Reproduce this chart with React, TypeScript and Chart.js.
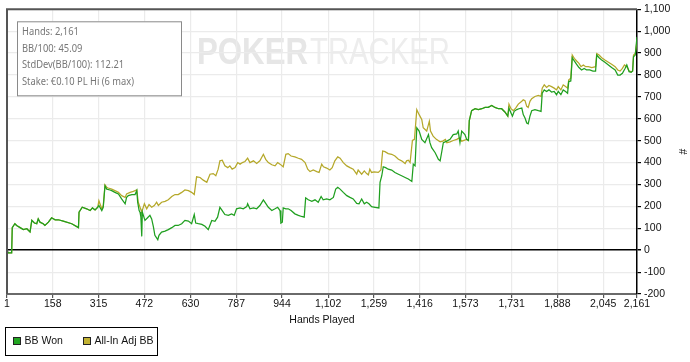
import React, { useEffect, useRef } from "react";
import { Chart, registerables } from "chart.js";
Chart.register(...registerables);

// ---- data ----
const bbWonHands = [1,5,17,19,28,34,46,57,69,80,86,95,103,108,114,125,131,143,154,166,177,194,223,246,248,259,274,286,294,303,312,316,326,331,337,343,354,360,371,383,394,406,411,417,429,440,446,449,454,457,460,463,465,474,483,491,497,503,508,518,522,531,543,554,566,577,588,600,611,623,634,643,648,657,669,680,691,703,714,723,731,739,748,760,771,780,788,800,811,823,826,834,846,857,868,880,888,897,909,920,929,937,940,945,948,957,965,975,988,1000,1011,1020,1025,1034,1046,1057,1068,1078,1085,1097,1108,1120,1128,1135,1143,1154,1166,1177,1188,1200,1208,1217,1226,1234,1242,1251,1263,1276,1280,1286,1291,1299,1308,1320,1331,1343,1354,1366,1377,1389,1394,1400,1406,1414,1423,1434,1446,1451,1457,1469,1480,1486,1491,1497,1509,1520,1531,1543,1548,1554,1560,1571,1577,1583,1586,1594,1606,1617,1629,1640,1651,1663,1674,1686,1697,1708,1718,1722,1729,1734,1740,1749,1756,1766,1771,1777,1783,1788,1794,1800,1811,1823,1832,1836,1843,1851,1859,1868,1877,1885,1891,1900,1908,1916,1923,1927,1934,1939,1946,1954,1962,1971,1980,1988,1999,2010,2019,2023,2031,2040,2051,2063,2074,2086,2095,2103,2111,2120,2126,2134,2141,2146,2149,2155,2161];
const bbWonValues = [0,-12,-12,103,121,113,103,94,98,83,136,124,121,143,128,121,113,128,148,139,139,133,121,103,174,196,189,181,193,184,196,204,181,196,294,279,275,272,264,257,234,212,241,249,254,254,272,219,181,174,151,63,174,136,148,159,143,106,68,48,68,83,87,94,103,113,113,121,136,133,121,163,124,121,118,109,94,136,132,151,196,181,163,159,166,159,189,193,189,199,212,189,193,189,204,230,214,196,181,189,196,181,124,128,193,189,189,181,166,159,154,151,239,230,223,230,219,245,230,234,230,241,279,287,279,264,249,241,234,214,212,234,212,219,212,199,196,193,310,340,381,377,370,366,355,347,340,332,325,314,393,385,559,544,506,491,528,491,468,445,415,408,445,491,498,506,528,531,544,491,544,528,506,501,592,637,646,642,646,652,652,661,652,646,646,631,612,649,627,612,634,642,646,649,619,604,581,577,612,637,642,637,634,717,732,725,732,722,725,710,725,710,732,725,717,770,773,879,864,849,834,823,830,823,823,818,818,891,879,868,858,846,834,823,800,800,808,830,846,815,812,818,883,891,974];

const allInHands = [1,5,17,19,28,34,46,57,69,80,86,95,103,108,114,125,131,143,154,166,177,194,223,246,248,259,274,286,294,303,312,316,326,331,337,343,348,360,371,383,394,406,411,423,434,446,451,463,472,480,488,497,506,514,520,531,543,554,566,577,588,600,611,623,634,643,651,663,674,686,697,708,717,725,731,739,748,758,765,773,783,792,800,808,817,826,834,846,857,868,880,888,897,909,920,929,937,948,957,965,975,988,1000,1011,1023,1032,1040,1051,1063,1071,1080,1086,1097,1108,1116,1125,1135,1143,1154,1166,1177,1188,1200,1205,1217,1226,1234,1240,1245,1251,1260,1274,1283,1289,1297,1308,1320,1331,1343,1354,1366,1371,1377,1383,1391,1398,1406,1414,1423,1428,1440,1449,1453,1462,1473,1486,1495,1504,1509,1520,1531,1543,1552,1560,1577,1583,1586,1594,1606,1617,1629,1640,1651,1663,1674,1686,1697,1708,1718,1722,1729,1737,1745,1754,1766,1771,1777,1783,1788,1794,1800,1811,1823,1832,1836,1843,1851,1859,1868,1877,1885,1891,1900,1908,1916,1923,1927,1934,1939,1946,1954,1962,1969,1977,1985,1994,2006,2019,2023,2031,2040,2051,2063,2074,2086,2095,2103,2111,2118,2126,2134,2141,2146,2149,2155,2161];
const allInValues = [0,-12,-12,103,121,113,103,94,98,83,136,124,121,143,128,121,113,128,148,139,139,133,121,103,174,196,189,181,193,184,196,226,189,204,299,287,284,279,272,264,249,241,257,264,269,275,219,174,212,189,208,196,204,219,204,219,223,230,245,254,254,264,275,272,264,254,335,332,320,310,347,350,340,370,408,411,385,377,385,370,377,400,393,400,405,420,400,408,396,408,438,415,400,390,385,400,393,381,438,441,430,426,420,415,400,370,359,366,359,355,393,381,375,366,377,408,426,420,400,385,377,370,347,366,347,362,350,344,370,355,358,355,366,453,450,441,438,430,415,408,396,408,411,400,501,506,642,619,597,559,544,589,544,521,506,495,498,506,491,495,501,506,513,498,506,501,592,637,646,642,646,652,652,661,652,646,646,631,612,667,646,637,649,667,680,687,683,657,652,680,692,702,707,702,740,755,743,752,747,740,732,747,732,755,747,740,778,785,891,876,864,853,838,846,838,838,834,838,898,891,879,868,858,849,838,823,818,830,846,838,818,815,818,891,898,955];

const xTickHands = [1,158,315,472,630,787,944,1102,1259,1416,1573,1731,1888,2045,2161];
const yMin = -200;
const yMax = 1100;
const yStep = 100;
const seriesNames = ["BB Won", "All-In Adj BB"];
const seriesColors = ["#1f9f1f", "#b5a82a"];
const legendFill = ["#22a622", "#c2b232"];
const infoLines = ["Hands: 2,161", "BB/100: 45.09", "StdDev(BB/100): 112.21", "Stake: €0.10 PL Hi (6 max)"];
const xTitle = "Hands Played";
const yTitle = "#";

const FONT = "'Liberation Sans', Arial, sans-serif";

const fmt = (v: number) => Number(v).toLocaleString("en-US");

const decorPlugin = {
  id: "decor",
  beforeDraw(chart: any) {
    const ctx = chart.ctx;
    const a = chart.chartArea;
    ctx.save();
    // watermark
    ctx.textBaseline = "alphabetic";
    ctx.fillStyle = "#e6e6e6";
    ctx.font = `bold 36px ${FONT}`;
    let w = ctx.measureText("POKER").width;
    ctx.save();
    ctx.translate(a.left + 190, a.top + 55);
    ctx.scale(111 / w, 1);
    ctx.fillText("POKER", 0, 0);
    ctx.restore();
    ctx.fillStyle = "#ededed";
    ctx.font = `36px ${FONT}`;
    w = ctx.measureText("TRACKER").width;
    ctx.save();
    ctx.translate(a.left + 303, a.top + 55);
    ctx.scale(140 / w, 1);
    ctx.fillText("TRACKER", 0, 0);
    ctx.restore();
    ctx.restore();
  },
  afterDraw(chart: any) {
    const ctx = chart.ctx;
    const a = chart.chartArea;
    ctx.save();
    // left & top frame
    ctx.strokeStyle = "#555";
    ctx.lineWidth = 2;
    ctx.beginPath();
    ctx.moveTo(a.left, a.bottom);
    ctx.lineTo(a.left, a.top);
    ctx.lineTo(a.right, a.top);
    ctx.stroke();

    // info box
    ctx.fillStyle = "#fff";
    ctx.fillRect(a.left + 10, a.top + 12, 164, 74);
    ctx.strokeStyle = "#8a8a8a";
    ctx.lineWidth = 1;
    ctx.strokeRect(a.left + 10.5, a.top + 12.5, 164, 74);
    ctx.fillStyle = "#777";
    ctx.font = `11px 'Noto Sans', sans-serif`;
    const widest = Math.max(...infoLines.map((t) => ctx.measureText(t).width));
    const sx = Math.min(1, 112 / widest);
    ctx.textBaseline = "middle";
    ctx.textAlign = "left";
    infoLines.forEach((t, i) => {
      ctx.save();
      ctx.translate(a.left + 15, a.top + 23 + i * 16.5);
      ctx.scale(sx, 1);
      ctx.fillText(t, 0, 0);
      ctx.restore();
    });

    // legend
    const lx = 5.5, ly = 327.5;
    ctx.strokeStyle = "#000";
    ctx.lineWidth = 1;
    ctx.strokeRect(lx, ly, 152, 28);
    const itemX = [13.5, 83.5];
    ctx.font = `10.5px ${FONT}`;
    ctx.textBaseline = "middle";
    seriesNames.forEach((n, i) => {
      ctx.fillStyle = legendFill[i];
      ctx.fillRect(itemX[i], 338, 7, 7);
      ctx.strokeStyle = "#222";
      ctx.strokeRect(itemX[i], 337.5, 7, 7);
      ctx.fillStyle = "#111";
      ctx.fillText(n, itemX[i] + 11, 341.5);
    });
    ctx.restore();
  },
};

export default function App() {
  const ref = useRef<HTMLCanvasElement>(null);
  useEffect(() => {
    if (!ref.current) return;
    const chart = new Chart(ref.current, {
      type: "line",
      data: {
        datasets: [
          {
            label: seriesNames[0],
            data: bbWonHands.map((h, i) => ({ x: h, y: bbWonValues[i] })),
            borderColor: seriesColors[0],
            backgroundColor: seriesColors[0],
            borderWidth: 1.25,
            pointRadius: 0,
            tension: 0,
            fill: false,
          },
          {
            label: seriesNames[1],
            data: allInHands.map((h, i) => ({ x: h, y: allInValues[i] })),
            borderColor: seriesColors[1],
            backgroundColor: seriesColors[1],
            borderWidth: 1.25,
            pointRadius: 0,
            tension: 0,
            fill: false,
          },
        ],
      },
      options: {
        responsive: false,
        animation: false,
        layout: { padding: { left: 7, top: 7, right: 0, bottom: 36 } },
        plugins: { legend: { display: false }, tooltip: { enabled: false } },
        scales: {
          x: {
            type: "linear",
            min: 1,
            max: 2161,
            afterBuildTicks: (s: any) => {
              s.ticks = xTickHands.map((v) => ({ value: v }));
            },
            afterFit: (s: any) => {
              s.height = 32;
            },
            ticks: {
              callback: (v: any) => fmt(v),
              font: { family: FONT, size: 10.5 },
              color: "#111",
              padding: 0,
              maxRotation: 0,
              autoSkip: false,
            },
            grid: { color: "#ebebeb", lineWidth: 1.2, tickColor: "#555", tickLength: 4 },
            border: { display: true, color: "#6a6a6a", width: 2 },
            title: {
              display: true,
              text: xTitle,
              font: { family: FONT, size: 10.5 },
              color: "#111",
              padding: { top: 0, bottom: 0 },
            },
          },
          y: {
            type: "linear",
            position: "right",
            min: yMin,
            max: yMax,
            afterFit: (s: any) => {
              s.width = 53;
            },
            ticks: {
              stepSize: yStep,
              callback: (v: any) => fmt(v),
              font: { family: FONT, size: 10.5 },
              color: "#111",
              padding: 3,
            },
            grid: {
              color: (c: any) => (c.tick && c.tick.value === 0 ? "#000" : "#ebebeb"),
              lineWidth: (c: any) => (c.tick && c.tick.value === 0 ? 1.5 : 1.2),
              tickColor: "#000",
              tickLength: 4,
            },
            border: { display: true, color: "#000", width: 1.5 },
            title: {
              display: true,
              text: yTitle,
              font: { family: FONT, size: 10.5 },
              color: "#111",
              padding: { top: 2, bottom: 0 },
            },
          },
        },
      },
      plugins: [decorPlugin],
    } as any);
    return () => chart.destroy();
  }, []);
  return (
    <div style={{ position: "fixed", left: 0, top: 0, width: 690, height: 362, background: "#fff" }}>
      <canvas ref={ref} width={690} height={362} style={{ display: "block" }} />
    </div>
  );
}
